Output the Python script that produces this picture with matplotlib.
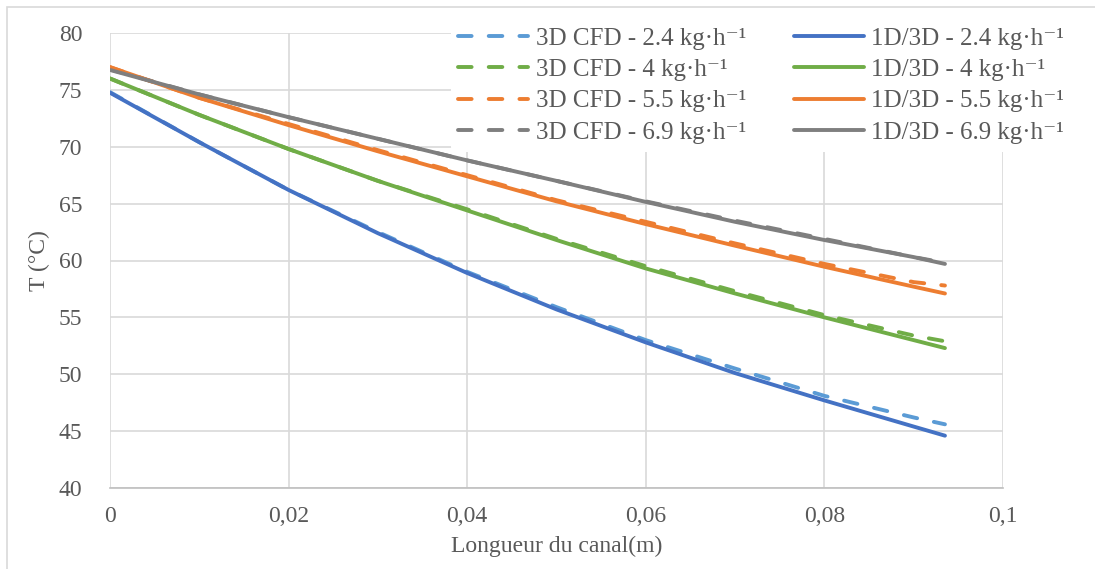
import matplotlib
matplotlib.use("Agg")
import matplotlib.pyplot as plt
from matplotlib.patches import Rectangle

plt.rcParams["font.family"] = ["Liberation Serif", "DejaVu Serif"]

# ----------------------------
# Data
# ----------------------------
x = [0, 0.01, 0.02, 0.03, 0.04, 0.05, 0.06, 0.07, 0.08, 0.09, 0.0935]

cfd_24 = [74.8, 70.4, 66.2, 62.5, 59.0, 55.9, 53.0, 50.5, 48.1, 46.2, 45.6]
cfd_4 = [76.0, 72.8, 69.8, 67.0, 64.5, 61.9, 59.5, 57.3, 55.2, 53.4, 52.9]
cfd_55 = [77.0, 74.3, 72.0, 69.7, 67.5, 65.3, 63.4, 61.5, 59.7, 58.1, 57.8]
cfd_69 = [76.8, 74.6, 72.6, 70.7, 68.8, 67.0, 65.2, 63.5, 61.9, 60.3, 59.8]

sim_24 = [74.75, 70.4, 66.2, 62.4, 58.9, 55.7, 52.8, 50.1, 47.7, 45.4, 44.6]
sim_4 = [76.0, 72.8, 69.8, 67.0, 64.4, 61.8, 59.3, 57.1, 55.0, 53.0, 52.3]
sim_55 = [77.0, 74.3, 71.9, 69.6, 67.4, 65.2, 63.2, 61.3, 59.45, 57.7, 57.1]
sim_69 = [76.75, 74.6, 72.6, 70.7, 68.8, 67.0, 65.15, 63.4, 61.8, 60.3, 59.7]

flows = ["2.4", "4", "5.5", "6.9"]
cfd_series = [cfd_24, cfd_4, cfd_55, cfd_69]
sim_series = [sim_24, sim_4, sim_55, sim_69]

cfd_colors = ["#5B9BD5", "#70AD47", "#ED7D31", "#7F7F7F"]
sim_colors = ["#4472C4", "#70AD47", "#ED7D31", "#7F7F7F"]

x_ticks = [0, 0.02, 0.04, 0.06, 0.08, 0.1]
x_tick_labels = ["0", "0,02", "0,04", "0,06", "0,08", "0,1"]
y_ticks = [40, 45, 50, 55, 60, 65, 70, 75, 80]

text_color = "#595959"
grid_color = "#D9D9D9"

# ----------------------------
# Figure
# ----------------------------
fig = plt.figure(figsize=(10.95, 5.69), dpi=100)
ax = fig.add_axes([110 / 1095, 1 - 488 / 569, 893 / 1095, 455 / 569])

# outer chart border (left and top edges visible)
top = 1 - 7 / 569
fig.add_artist(Rectangle((7 / 1095, -0.1), 1.2, top + 0.1,
                         transform=fig.transFigure, fill=False,
                         edgecolor=grid_color, linewidth=1.2, clip_on=False))

lw = 2.8
handles = []
for i in range(4):
    h, = ax.plot(x, cfd_series[i], color=cfd_colors[i], linewidth=lw,
                 linestyle=(0, (3.5, 4.4)), dash_capstyle="round",
                 label="3D CFD - " + flows[i] + " kg·h⁻¹", zorder=3)
    handles.append(h)
for i in range(4):
    h, = ax.plot(x, sim_series[i], color=sim_colors[i], linewidth=lw,
                 solid_capstyle="round",
                 label="1D/3D - " + flows[i] + " kg·h⁻¹", zorder=3)
    handles.append(h)

ax.set_xlim(0, 0.1)
ax.set_ylim(40, 80)
ax.set_xticks(x_ticks)
ax.set_xticklabels(x_tick_labels)
ax.set_yticks(y_ticks)

ax.grid(True, color=grid_color, linewidth=1.2)
ax.set_axisbelow(True)
for s in ["top", "right", "left"]:
    ax.spines[s].set_visible(False)
ax.spines["bottom"].set_color("#BFBFBF")
ax.spines["bottom"].set_linewidth(1.2)

ax.tick_params(length=0, labelsize=17, colors=text_color)
ax.tick_params(axis="x", pad=13)
ax.tick_params(axis="y", pad=20)

ax.set_xlabel("Longueur du canal(m)", fontsize=17, color=text_color, labelpad=6)
ax.set_ylabel("T (°C)", fontsize=17, color=text_color, labelpad=6)

leg = fig.legend(handles=handles, ncol=2, loc="upper right",
                 bbox_to_anchor=(1084 / 1095, 1 - 7 / 569),
                 fontsize=18, handlelength=2.8, handletextpad=0.3,
                 columnspacing=1.9, labelspacing=0.36,
                 frameon=True, facecolor="white", edgecolor="none",
                 framealpha=1, borderpad=0.3)
for t in leg.get_texts():
    t.set_color(text_color)

plt.savefig("out.png", dpi=100)
plt.close()
